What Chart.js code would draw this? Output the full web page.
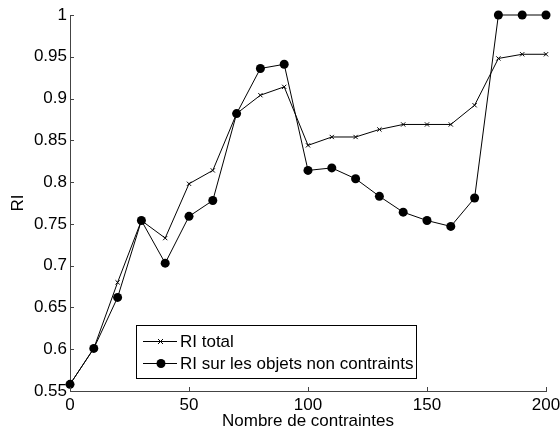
<!DOCTYPE html>
<html>
<head>
<meta charset="utf-8">
<script src="https://cdn.jsdelivr.net/npm/chart.js@4"></script>
<style>
  body { margin: 0; background: #fff; }
  #wrap { width: 560px; height: 432px; position: relative; }
</style>
</head>
<body>
<div id="wrap"><canvas id="myChart" width="560" height="432"></canvas></div>
<script>
// data
let nbContraintes = [0,10,20,30,40,50,60,70,80,90,100,110,120,130,140,150,160,170,180,190,200]
let riTotal = [0.558,0.601,0.680,0.754,0.733,0.798,0.814,0.882,0.904,0.914,0.844,0.854,0.854,0.863,0.869,0.869,0.869,0.892,0.948,0.953,0.953]
let riNonContraints = [0.558,0.601,0.662,0.754,0.703,0.759,0.778,0.882,0.936,0.941,0.814,0.817,0.804,0.783,0.764,0.754,0.747,0.781,1,1,1]
let yTicks = [0.55,0.6,0.65,0.7,0.75,0.8,0.85,0.9,0.95,1]
let xTicks = [0,50,100,150,200]
let seriesNames = ['RI total', 'RI sur les objets non contraints']

const font = "'Liberation Sans', Arial, sans-serif"
const axisColor = '#444'

function pts(vals){
    return nbContraintes.map((x,i) => ({x:x, y:vals[i]}))
}

// inward tick marks, like the original plot
const innerTicks = {
    id:'innerTicks',
    afterDatasetsDraw(chart){
        const c = chart.ctx, xs = chart.scales.x, ys = chart.scales.y
        c.save()
        c.strokeStyle = axisColor
        c.lineWidth = 1
        c.beginPath()
        xTicks.forEach(v => {
            let px = Math.round(xs.getPixelForValue(v)) + 0.5
            c.moveTo(px, ys.bottom); c.lineTo(px, ys.bottom - 4)
        })
        yTicks.forEach(v => {
            let py = Math.round(ys.getPixelForValue(v)) + 0.5
            c.moveTo(xs.left, py); c.lineTo(xs.left + 4, py)
        })
        c.stroke()
        c.restore()
    }
}

// legend box inside the plot
const boxLegend = {
    id:'boxLegend',
    afterDraw(chart){
        const c = chart.ctx
        const bx = 136.5, by = 325.5, bw = 280, bh = 53
        c.save()
        c.fillStyle = '#fff'
        c.fillRect(bx, by, bw, bh)
        c.strokeStyle = '#000'
        c.lineWidth = 1
        c.strokeRect(bx, by, bw, bh)
        c.font = '17px ' + font
        c.textBaseline = 'middle'
        chart.data.datasets.forEach((ds, i) => {
            let ly = 341.5 + i * 22
            c.beginPath()
            c.moveTo(143, ly); c.lineTo(177, ly)
            c.stroke()
            if (i === 0) {
                c.beginPath()
                c.moveTo(158, ly - 2.5); c.lineTo(163, ly + 2.5)
                c.moveTo(158, ly + 2.5); c.lineTo(163, ly - 2.5)
                c.stroke()
            } else {
                c.beginPath()
                c.arc(161, ly, 4.5, 0, Math.PI * 2)
                c.fillStyle = '#000'
                c.fill()
            }
            c.fillStyle = '#000'
            c.fillText(ds.label, 180, ly + 1)
        })
        c.restore()
    }
}

var ctx = document.getElementById('myChart').getContext('2d');
var myChart = new Chart(ctx, {
    type: 'line',
    data: {
        datasets: [{
            label: seriesNames[0],
            data: pts(riTotal),
            borderColor: '#000',
            backgroundColor: '#000',
            borderWidth: 1,
            pointStyle: 'crossRot',
            pointRadius: 3,
            pointBorderWidth: 1,
            tension: 0,
            clip: false
        },
        {
            label: seriesNames[1],
            data: pts(riNonContraints),
            borderColor: '#000',
            backgroundColor: '#000',
            borderWidth: 1,
            pointStyle: 'circle',
            pointRadius: 4.5,
            pointBorderWidth: 0,
            tension: 0,
            clip: false
        }]
    },
    options: {
        responsive: false,
        animation: false,
        devicePixelRatio: 1,
        layout: { padding: { left: 0, top: 15, right: 14, bottom: 0 } },
        plugins: {
            legend: { display: false },
            tooltip: { enabled: false }
        },
        scales: {
            x: {
                type: 'linear',
                min: 0, max: 200,
                afterFit: s => { s.height = 41; s.paddingLeft = 0; s.paddingRight = 0 },
                afterBuildTicks: s => { s.ticks = xTicks.map(v => ({value: v})) },
                grid: { drawOnChartArea: false, drawTicks: false },
                border: { color: axisColor, width: 1 },
                ticks: { color: '#000', padding: 4, maxRotation: 0, font: { family: font, size: 17 } },
                title: { display: true, text: 'Nombre de contraintes', color: '#000',
                         padding: { top: 0, bottom: 0 }, font: { family: font, size: 17 } }
            },
            y: {
                min: 0.55, max: 1,
                afterFit: s => { s.width = 70; s.paddingTop = 0; s.paddingBottom = 0 },
                afterBuildTicks: s => { s.ticks = yTicks.map(v => ({value: v})) },
                grid: { drawOnChartArea: false, drawTicks: false },
                border: { color: axisColor, width: 1 },
                ticks: { color: '#000', padding: 3, font: { family: font, size: 17 },
                         callback: v => String(+v.toFixed(2)) },
                title: { display: true, text: 'RI', color: '#000',
                         padding: { top: 8, bottom: 0 }, font: { family: font, size: 17 } }
            }
        }
    },
    plugins: [innerTicks, boxLegend]
});
</script>
</body>
</html>
